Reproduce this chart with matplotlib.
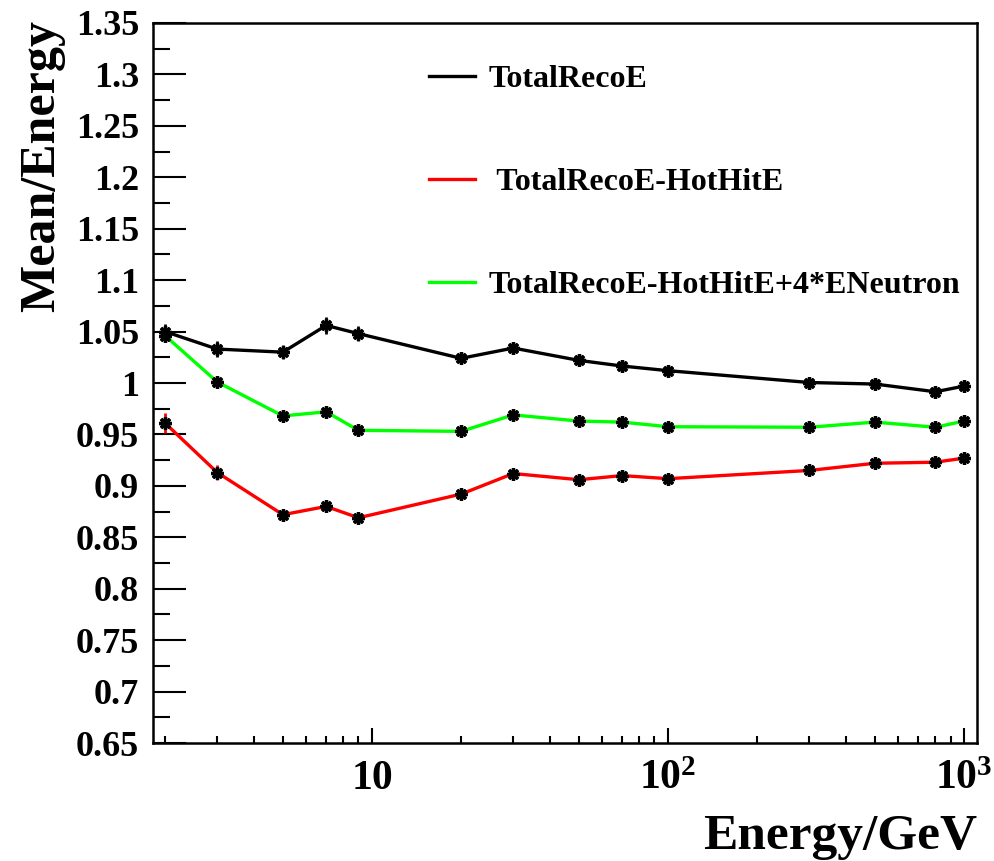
"""Response linearity vs. beam energy for three energy sums."""

import matplotlib
matplotlib.use("Agg")
import matplotlib.pyplot as plt
from matplotlib.lines import Line2D
from matplotlib.ticker import FixedLocator, FuncFormatter, MultipleLocator, NullFormatter

energy = [2, 3, 5, 7, 9, 20, 30, 50, 70, 100, 300, 500, 800, 1000]

total_reco = [1.050, 1.033, 1.030, 1.056, 1.048, 1.024, 1.034, 1.022, 1.0165, 1.012,
              1.0005, 0.999, 0.9915, 0.997]
total_reco_err = [0.007, 0.008, 0.007, 0.008, 0.007, 0.003, 0.003, 0.003, 0.003, 0.003,
                  0.003, 0.003, 0.003, 0.003]

minus_hot = [0.961, 0.913, 0.872, 0.880, 0.869, 0.892, 0.912, 0.906, 0.910, 0.907,
             0.915, 0.922, 0.923, 0.927]
minus_hot_err = [0.010, 0.007, 0.005, 0.005, 0.004, 0.003, 0.003, 0.003, 0.003, 0.003,
                 0.003, 0.003, 0.003, 0.003]

plus_neutron = [1.046, 1.001, 0.968, 0.972, 0.954, 0.953, 0.969, 0.963, 0.962, 0.9575,
                0.957, 0.962, 0.957, 0.963]
plus_neutron_err = [0.006, 0.006, 0.004, 0.004, 0.003, 0.003, 0.003, 0.003, 0.003, 0.003,
                    0.003, 0.003, 0.003, 0.003]

labels = ["TotalRecoE", " TotalRecoE-HotHitE", "TotalRecoE-HotHitE+4*ENeutron"]
colors = ["black", "#ff0000", "#00ff00"]

plt.rcParams["font.family"] = "Liberation Serif"
plt.rcParams["font.weight"] = "bold"
plt.rcParams["mathtext.fontset"] = "custom"
plt.rcParams["mathtext.rm"] = "Liberation Serif:bold"
plt.rcParams["mathtext.it"] = "Liberation Serif:bold"
plt.rcParams["mathtext.bf"] = "Liberation Serif:bold"

fig = plt.figure(figsize=(9.94, 8.61), dpi=100)
ax = fig.add_axes([0.1539, 0.1370, 0.8290, 0.8363])

series = [(total_reco, total_reco_err), (minus_hot, minus_hot_err), (plus_neutron, plus_neutron_err)]
for (vals, errs), color in zip(series, colors):
    ax.errorbar(energy, vals, yerr=errs, color=color, ecolor=color, lw=2.4,
                elinewidth=2.0, capsize=0, zorder=2)
    ax.plot(energy, vals, ls="none", marker=(8, 2, 0), ms=9, mew=2.4,
            color="black", zorder=3)

ax.set_xscale("log")
ax.set_xlim(1.82, 1106)
ax.set_ylim(0.65, 1.35)

ax.yaxis.set_major_locator(MultipleLocator(0.05))
ax.yaxis.set_minor_locator(MultipleLocator(0.025))
ax.yaxis.set_major_formatter(FuncFormatter(lambda v, p: f"{v:.2f}".rstrip("0").rstrip(".")))

ax.xaxis.set_major_locator(FixedLocator([10, 100, 1000]))
ax.xaxis.set_major_formatter(FuncFormatter(
    lambda v, p: {10: "10", 100: "$10^2$", 1000: "$10^3$"}.get(int(round(v)), "")))
minor = [m * 10 ** d for d in range(0, 3) for m in range(2, 10)]
ax.xaxis.set_minor_locator(FixedLocator(minor))
ax.xaxis.set_minor_formatter(NullFormatter())

ax.tick_params(axis="y", which="major", direction="in", length=24, width=1.5,
               labelsize=26, pad=10)
ax.tick_params(axis="y", which="minor", direction="in", length=12, width=1.5)
ax.tick_params(axis="x", which="major", direction="in", length=11, width=1.5,
               labelsize=30, pad=12)
ax.tick_params(axis="x", which="minor", direction="in", length=5, width=1.5)
for side in ax.spines.values():
    side.set_linewidth(1.8)

ax.set_ylabel("Mean/Energy", fontsize=36, fontweight="bold")
ax.yaxis.set_label_coords(-0.107, 1.004)
ax.yaxis.label.set_horizontalalignment("right")
ax.set_xlabel("Energy/GeV", fontsize=37, fontweight="bold")
ax.xaxis.set_label_coords(1.0, -0.099)
ax.xaxis.label.set_horizontalalignment("right")

handles = [Line2D([], [], color=c, lw=2.4) for c in colors]
ax.legend(handles, labels, loc="upper left", bbox_to_anchor=(0.2995, 0.982),
          frameon=False, handlelength=1.47, handletextpad=0.42,
          labelspacing=2.30, prop={"family": "Liberation Serif", "weight": "bold", "size": 23})

fig.savefig("out.png", dpi=100)
